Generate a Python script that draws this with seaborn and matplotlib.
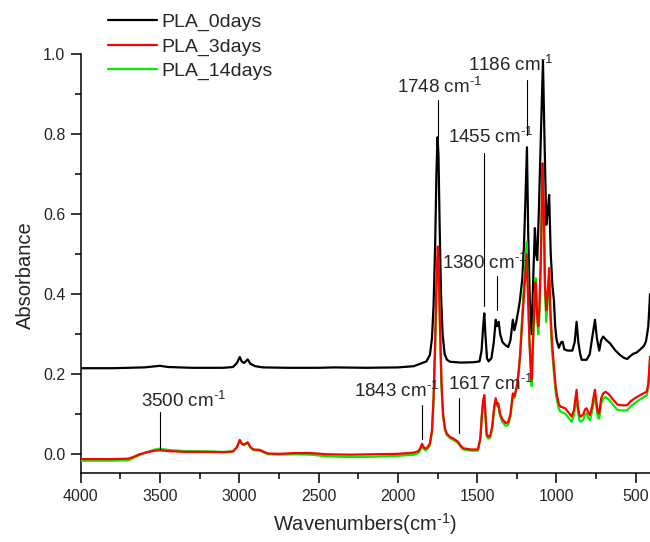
import numpy as np
import pandas as pd
import matplotlib
matplotlib.use("Agg")
from matplotlib import pyplot as plt
from matplotlib.ticker import MultipleLocator
import seaborn as sns

# FTIR spectra of PLA after 0, 3 and 14 days
wn_0days = [4000, 3800, 3700, 3600, 3500, 3450, 3300, 3100, 3040, 3015, 2997, 2985, 2970,
            2947, 2930, 2900, 2850, 2700, 2500, 2400, 2200, 2000, 1900, 1860, 1820, 1798,
            1785, 1775, 1765, 1757, 1750, 1744, 1737, 1728, 1718, 1705, 1690, 1670, 1600,
            1520, 1485, 1472, 1462, 1455, 1448, 1438, 1428, 1410, 1395, 1383, 1374, 1364,
            1355, 1340, 1320, 1304, 1290, 1275, 1265, 1255, 1240, 1230, 1215, 1205, 1196,
            1186, 1178, 1168, 1157, 1148, 1136, 1128, 1121, 1110, 1098, 1085, 1075, 1064,
            1056, 1046, 1036, 1025, 1016, 1008, 999, 985, 970, 961, 950, 930, 900, 885, 873,
            862, 850, 841, 810, 790, 775, 757, 745, 730, 718, 705, 685, 662, 630, 599, 575,
            554, 535, 516, 495, 474, 450, 436, 428, 421, 415, 410]
abs_0days = [0.215, 0.215, 0.216, 0.217, 0.221, 0.218, 0.216, 0.216, 0.218, 0.228, 0.243,
             0.232, 0.228, 0.237, 0.226, 0.220, 0.217, 0.216, 0.216, 0.217, 0.216, 0.217,
             0.220, 0.226, 0.232, 0.248, 0.290, 0.370, 0.520, 0.700, 0.792, 0.750, 0.580,
             0.400, 0.300, 0.250, 0.236, 0.231, 0.229, 0.230, 0.232, 0.260, 0.320, 0.352,
             0.300, 0.240, 0.232, 0.240, 0.280, 0.336, 0.320, 0.331, 0.300, 0.280, 0.272,
             0.268, 0.285, 0.336, 0.310, 0.327, 0.360, 0.385, 0.440, 0.520, 0.630, 0.767,
             0.550, 0.380, 0.300, 0.420, 0.565, 0.500, 0.485, 0.620, 0.800, 0.983, 0.780,
             0.573, 0.600, 0.648, 0.500, 0.420, 0.385, 0.320, 0.286, 0.266, 0.280, 0.281,
             0.262, 0.259, 0.259, 0.280, 0.331, 0.280, 0.250, 0.236, 0.236, 0.250, 0.290,
             0.336, 0.290, 0.259, 0.285, 0.294, 0.285, 0.277, 0.260, 0.248, 0.241, 0.238,
             0.245, 0.251, 0.254, 0.261, 0.270, 0.281, 0.300, 0.319, 0.360, 0.400]

wn_aged = [4000, 3800, 3700, 3670, 3630, 3580, 3530, 3500, 3450, 3350, 3200, 3100, 3040,
           3015, 2997, 2985, 2972, 2947, 2930, 2910, 2870, 2850, 2820, 2750, 2650, 2550,
           2450, 2300, 2150, 2000, 1900, 1870, 1856, 1848, 1838, 1825, 1812, 1798, 1785,
           1775, 1765, 1756, 1748, 1742, 1735, 1725, 1715, 1703, 1692, 1670, 1645, 1620,
           1605, 1588, 1540, 1495, 1480, 1470, 1462, 1455, 1448, 1440, 1430, 1418, 1405,
           1392, 1383, 1375, 1367, 1355, 1340, 1320, 1305, 1290, 1275, 1265, 1251, 1240,
           1230, 1218, 1208, 1198, 1188, 1180, 1170, 1160, 1156, 1148, 1138, 1131, 1122,
           1115, 1108, 1098, 1088, 1080, 1072, 1064, 1056, 1046, 1038, 1028, 1016, 1005,
           999, 985, 975, 960, 946, 925, 904, 890, 880, 873, 865, 855, 847, 830, 820, 810,
           800, 789, 775, 765, 757, 748, 738, 730, 718, 705, 690, 670, 640, 615, 599, 575,
           554, 530, 505, 480, 453, 431, 421, 415, 410]
abs_3days = [-0.012, -0.012, -0.011, -0.007, 0.000, 0.005, 0.009, 0.010, 0.008, 0.006, 0.006,
             0.005, 0.007, 0.018, 0.036, 0.027, 0.024, 0.030, 0.018, 0.012, 0.011, 0.007,
             0.002, 0.001, 0.003, 0.003, 0.000, -0.001, 0.000, 0.001, 0.004, 0.008, 0.018,
             0.026, 0.018, 0.014, 0.018, 0.027, 0.060, 0.140, 0.280, 0.440, 0.519, 0.470,
             0.330, 0.180, 0.100, 0.065, 0.052, 0.043, 0.038, 0.031, 0.022, 0.015, 0.012,
             0.012, 0.040, 0.100, 0.135, 0.148, 0.100, 0.050, 0.044, 0.046, 0.070, 0.120,
             0.140, 0.125, 0.127, 0.100, 0.087, 0.078, 0.080, 0.100, 0.152, 0.145, 0.169,
             0.200, 0.244, 0.320, 0.380, 0.440, 0.500, 0.400, 0.280, 0.200, 0.186, 0.280,
             0.380, 0.430, 0.350, 0.320, 0.360, 0.500, 0.727, 0.620, 0.420, 0.360, 0.400,
             0.465, 0.360, 0.280, 0.220, 0.170, 0.152, 0.125, 0.119, 0.117, 0.115, 0.105,
             0.094, 0.110, 0.140, 0.161, 0.120, 0.098, 0.094, 0.100, 0.112, 0.115, 0.105,
             0.098, 0.120, 0.145, 0.161, 0.130, 0.104, 0.102, 0.140, 0.152, 0.156, 0.150,
             0.135, 0.124, 0.123, 0.122, 0.123, 0.133, 0.140, 0.146, 0.152, 0.156, 0.175,
             0.210, 0.244]
abs_14days = [-0.016, -0.016, -0.015, -0.010, -0.002, 0.006, 0.012, 0.014, 0.011, 0.008,
              0.007, 0.006, 0.007, 0.017, 0.034, 0.026, 0.023, 0.028, 0.017, 0.010, 0.009,
              0.005, 0.000, -0.001, 0.000, -0.001, -0.005, -0.007, -0.006, -0.004, -0.001,
              0.003, 0.012, 0.020, 0.013, 0.010, 0.014, 0.022, 0.055, 0.130, 0.260, 0.420,
              0.500, 0.455, 0.320, 0.170, 0.095, 0.060, 0.048, 0.040, 0.035, 0.028, 0.019,
              0.012, 0.009, 0.009, 0.037, 0.097, 0.130, 0.143, 0.095, 0.045, 0.039, 0.041,
              0.065, 0.115, 0.134, 0.120, 0.122, 0.095, 0.080, 0.071, 0.073, 0.094, 0.146,
              0.140, 0.163, 0.195, 0.240, 0.330, 0.400, 0.470, 0.531, 0.420, 0.280, 0.190,
              0.170, 0.270, 0.390, 0.440, 0.340, 0.300, 0.340, 0.480, 0.710, 0.600, 0.400,
              0.330, 0.380, 0.440, 0.340, 0.260, 0.205, 0.155, 0.140, 0.113, 0.107, 0.104,
              0.102, 0.092, 0.081, 0.097, 0.127, 0.148, 0.107, 0.085, 0.081, 0.087, 0.099,
              0.102, 0.092, 0.085, 0.107, 0.132, 0.148, 0.117, 0.091, 0.089, 0.127, 0.139,
              0.143, 0.137, 0.122, 0.111, 0.110, 0.109, 0.110, 0.120, 0.128, 0.135, 0.142,
              0.147, 0.165, 0.200, 0.235]

# peak labels: wavenumber of the marker, marker span, text anchor (left, baseline)
ann_labels = ["3500", "1843", "1748", "1617", "1455", "1380", "1186"]
ann_wn = [3500, 1850, 1748, 1615, 1458, 1377, 1188]
ann_y0 = [0.013, 0.037, 0.793, 0.054, 0.370, 0.360, 0.798]
ann_y1 = [0.106, 0.123, 0.885, 0.140, 0.753, 0.445, 0.935]
ann_text_x = [3621, 2275, 2008, 1682, 1682, 1724, 1556]
ann_text_y = [0.117, 0.142, 0.902, 0.161, 0.777, 0.462, 0.958]

SUP = r' cm$^{\text{-1}}$'

sns.set_style("ticks")
plt.rcParams['font.family'] = ['Liberation Sans', 'DejaVu Sans']
plt.rcParams['mathtext.fontset'] = 'custom'
plt.rcParams['mathtext.rm'] = 'Liberation Sans'
plt.rcParams['mathtext.it'] = 'Liberation Sans'

fig = plt.figure(figsize=(6.5, 5.42), dpi=100)
ax = fig.add_axes([0.1242, 0.1268, 0.8758, 0.8105])

df0 = pd.DataFrame({'wn': wn_0days, 'abs': abs_0days})
df3 = pd.DataFrame({'wn': wn_aged, 'abs': abs_3days})
df14 = pd.DataFrame({'wn': wn_aged, 'abs': abs_14days})

sns.lineplot(data=df0, x='wn', y='abs', color='black', lw=1.6, ax=ax, label='PLA_0days',
             estimator=None, zorder=3)
sns.lineplot(data=df14, x='wn', y='abs', color='#00ee00', lw=1.6, ax=ax, label='PLA_14days',
             estimator=None, zorder=3)
sns.lineplot(data=df3, x='wn', y='abs', color='#ff0000', lw=1.6, ax=ax, label='PLA_3days',
             estimator=None, zorder=4)

for lab, x, y0, y1, tx, ty in zip(ann_labels, ann_wn, ann_y0, ann_y1, ann_text_x, ann_text_y):
    ax.plot([x, x], [y0, y1], color='black', lw=0.8, zorder=5)
    ax.text(tx, ty, lab + SUP, fontsize=13.5, ha='left', va='baseline', zorder=6)

ax.set_xlim(4000, 410)
ax.set_ylim(-0.0475, 1.05)
ax.xaxis.set_major_locator(MultipleLocator(500))
ax.xaxis.set_minor_locator(MultipleLocator(250))
ax.set_yticks([0.0, 0.2, 0.4, 0.6, 0.8, 1.0])
ax.yaxis.set_minor_locator(MultipleLocator(0.1))
ax.yaxis.set_major_formatter(matplotlib.ticker.FormatStrFormatter('%.1f'))

ax.spines['top'].set_visible(False)
ax.spines['right'].set_visible(False)
ax.spines['left'].set_bounds(-0.0475, 1.0)
for s in ('left', 'bottom'):
    ax.spines[s].set_linewidth(1.1)
    ax.spines[s].set_color('black')
ax.tick_params(which='major', direction='out', length=7, width=1.1, labelsize=11.5,
               pad=4, color='black')
ax.tick_params(which='minor', direction='out', length=4, width=1.1, color='black')

ax.set_xlabel('Wavenumbers(cm$^{\\text{-1}}$)', fontsize=14.5)
ax.set_ylabel('Absorbance', fontsize=14.5)
ax.yaxis.set_label_coords(-0.08, 0.45)
ax.xaxis.set_label_coords(0.5, -0.085)

handles, labels = ax.get_legend_handles_labels()
order = [labels.index(k) for k in ['PLA_0days', 'PLA_3days', 'PLA_14days']]
ax.legend([handles[i] for i in order], [labels[i] for i in order], loc='upper left',
          bbox_to_anchor=(108 / 650, 1 - 13 / 542), bbox_transform=fig.transFigure,
          frameon=False, fontsize=14, handlelength=2.5, handletextpad=0.25,
          labelspacing=0.36, borderpad=0, borderaxespad=0)

fig.savefig('out.png', dpi=100)
